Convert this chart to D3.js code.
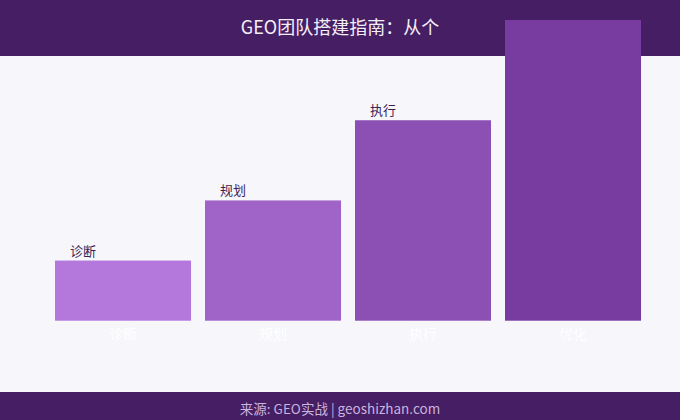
<!DOCTYPE html>
<html><head><meta charset="utf-8">
<script src="https://cdn.jsdelivr.net/npm/d3@7"></script>
<style>html,body{margin:0;padding:0;background:#f6f6fb;}svg{display:block;}</style>
</head><body>
<svg id="c" width="680" height="420"></svg>
<script>
const title = "GEO团队搭建指南：从个";
const source = "来源: GEO实战 | geoshizhan.com";
const categories = ["诊断", "规划", "执行", "优化"];
const values = [30, 60, 100, 150];
const barColors = ["#b478dc", "#a064c8", "#8c50b4", "#783ca0"];

const W = 680, H = 420;
const font = "'Noto Sans CJK SC', 'Noto Sans', sans-serif";
const svg = d3.select("#c");
svg.append("rect").attr("width", W).attr("height", H).attr("fill", "#f6f6fb");

const x = d3.scaleBand().domain(categories).range([48, 648])
  .paddingInner(14/150).paddingOuter(7/150);
const y = d3.scaleLinear().domain([0, 150]).range([320.7, 20]);

// value labels (the last one ends up hidden under the header band)
svg.append("g").selectAll("text.top").data(categories).join("text").attr("class", "top")
  .attr("x", d => x(d) + 15).attr("y", (d, i) => y(values[i]) - 5)
  .attr("font-family", font).attr("font-size", 13).attr("fill", "#3c1e55").text(d => d);

svg.append("rect").attr("width", W).attr("height", 56).attr("fill", "#461e64");
svg.append("text").attr("x", 340).attr("y", 34).attr("text-anchor", "middle")
  .attr("font-family", font).attr("font-size", 18).attr("fill", "#f4eef8").text(title);

const g = svg.append("g");
g.selectAll("rect.bar").data(categories).join("rect").attr("class", "bar")
  .attr("x", d => x(d)).attr("width", x.bandwidth())
  .attr("y", (d, i) => y(values[i])).attr("height", (d, i) => y(0) - y(values[i]))
  .attr("fill", (d, i) => barColors[i]);

const xAxis = d3.axisBottom(x).tickSize(0).tickPadding(8);
const ax = svg.append("g").attr("transform", `translate(0,${y(0)})`).call(xAxis);
ax.select(".domain").remove();
ax.selectAll("text").attr("font-family", font).attr("font-size", 14).attr("fill", "#ffffff");

svg.append("rect").attr("y", 392).attr("width", W).attr("height", 28).attr("fill", "#461e64");
svg.append("text").attr("x", 340).attr("y", 414).attr("text-anchor", "middle")
  .attr("font-family", font).attr("font-size", 13.5).attr("fill", "#c8b4dc").text(source);
</script>
</body></html>
